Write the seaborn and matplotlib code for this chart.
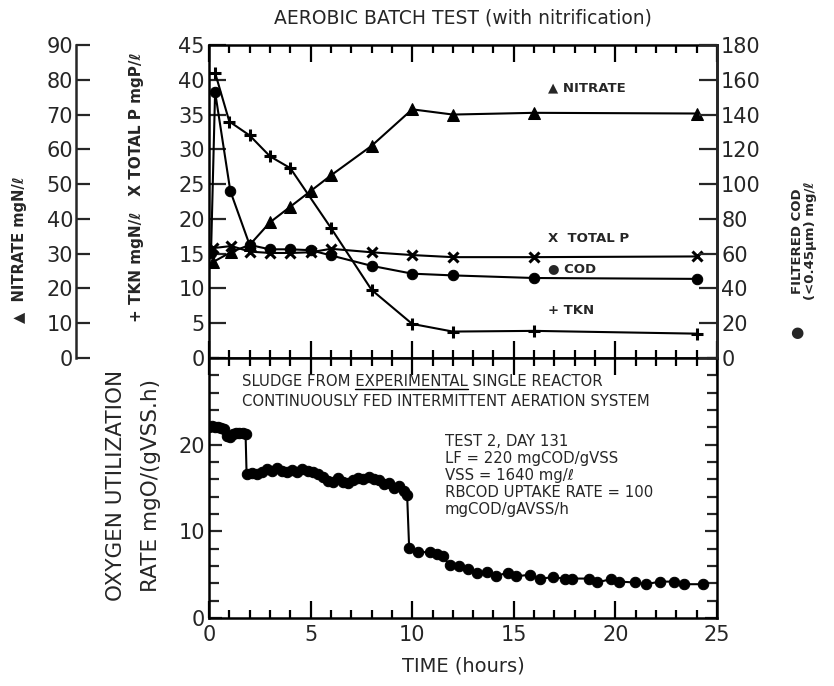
import matplotlib
matplotlib.use("Agg")
import matplotlib.pyplot as plt
from matplotlib.ticker import MultipleLocator, FixedLocator
from matplotlib.lines import Line2D
import seaborn as sns

# ---------------- data ----------------
time_tkn = [0.3, 1.0, 2.0, 3.0, 4.0, 6.0, 8.0, 10.0, 12.0, 16.0, 24.0]
tkn = [41.0, 34.0, 32.0, 29.0, 27.3, 18.7, 9.8, 4.9, 3.8, 3.9, 3.5]

time_tp = [0.2, 1.1, 2.0, 3.0, 4.0, 5.0, 6.0, 8.0, 10.0, 12.0, 16.0, 24.0]
total_p = [15.8, 16.1, 15.3, 15.1, 15.1, 15.2, 15.7, 15.2, 14.8, 14.5, 14.5, 14.6]

time_nit = [0.2, 1.1, 2.0, 3.0, 4.0, 5.0, 6.0, 8.0, 10.0, 12.0, 16.0, 24.0]
nitrate = [27.6, 30.5, 32.5, 39.0, 43.5, 48.0, 52.5, 61.0, 71.5, 70.0, 70.5, 70.3]

time_cod = [0.1, 0.3, 1.05, 2.0, 3.0, 4.0, 5.0, 6.0, 8.0, 10.0, 12.0, 16.0, 24.0]
cod = [60.5, 153.0, 96.0, 65.0, 62.5, 62.5, 62.0, 59.0, 53.0, 48.5, 47.5, 46.0, 45.5]

time_our = [0.0, 0.15, 0.3, 0.45, 0.6, 0.75, 0.9, 1.05, 1.2, 1.35, 1.5, 1.65, 1.8,
            1.85, 2.1, 2.35, 2.6, 2.85, 3.1, 3.35, 3.6, 3.85, 4.1, 4.35, 4.6, 4.85,
            5.1, 5.35, 5.6, 5.85, 6.1, 6.35, 6.6, 6.85, 7.1, 7.35, 7.6, 7.85, 8.1,
            8.35, 8.6, 8.85, 9.1, 9.35, 9.6, 9.75,
            9.85, 10.3, 10.9, 11.2, 11.5, 11.85, 12.3, 12.75, 13.2, 13.7, 14.1, 14.7,
            15.1, 15.8, 16.3, 16.95, 17.5, 17.85, 18.7, 19.1, 19.8, 20.2, 20.95,
            21.5, 22.2, 22.9, 23.4, 24.3]
our = [22.0, 22.1, 22.0, 22.0, 21.9, 21.8, 21.0, 20.9, 21.2, 21.4, 21.3, 21.4, 21.2,
       16.6, 16.7, 16.6, 16.8, 17.2, 17.0, 17.3, 17.0, 16.9, 17.1, 16.8, 17.2, 17.0,
       16.8, 16.6, 16.3, 15.8, 15.7, 16.2, 15.7, 15.6, 15.9, 16.1, 16.0, 16.3, 16.0,
       15.9, 15.5, 15.6, 15.0, 15.2, 14.6, 14.2,
       8.1, 7.6, 7.6, 7.4, 7.1, 6.1, 6.0, 5.7, 5.25, 5.3, 4.8, 5.25,
       4.8, 5.0, 4.5, 4.75, 4.5, 4.55, 4.55, 4.1, 4.5, 4.2, 4.1,
       3.9, 4.2, 4.2, 3.9, 3.9]

x_major = [0, 5, 10, 15, 20, 25]
left_ticks = [0, 5, 10, 15, 20, 25, 30, 35, 40, 45]
nit_ticks = [0, 10, 20, 30, 40, 50, 60, 70, 80, 90]
cod_ticks = [0, 20, 40, 60, 80, 100, 120, 140, 160, 180]
our_ticks = [0, 10, 20]

# ---------------- style ----------------
sns.set_style("ticks")
plt.rcParams["font.family"] = ["DejaVu Sans"]
plt.rcParams["axes.linewidth"] = 1.8

W, H = 834, 686
fig = plt.figure(figsize=(W / 100, H / 100), dpi=100)

x0, x1 = 209, 717
ax_top = fig.add_axes([x0 / W, 1 - 358 / H, (x1 - x0) / W, (358 - 45) / H])
ax_bot = fig.add_axes([x0 / W, 1 - 618 / H, (x1 - x0) / W, (618 - 358) / H])

ax_nit = ax_top.twinx()
ax_cod = ax_top.twinx()

line_kw = dict(color="black", linewidth=1.5, estimator=None,
               markeredgecolor="black")

# top panel series
sns.lineplot(x=time_tkn, y=tkn, ax=ax_top, marker="+", markersize=9,
             markeredgewidth=2.2, **line_kw)
sns.lineplot(x=time_tp, y=total_p, ax=ax_top, marker="x", markersize=7,
             markeredgewidth=2.2, **line_kw)
sns.lineplot(x=time_nit, y=nitrate, ax=ax_nit, marker="^", markersize=8.5,
             markerfacecolor="black", **line_kw)
sns.lineplot(x=time_cod, y=cod, ax=ax_cod, marker="o", markersize=7.5,
             markerfacecolor="black", **line_kw)

# bottom panel
sns.lineplot(x=time_our, y=our, ax=ax_bot, marker="o", markersize=7.5,
             markerfacecolor="black", **line_kw)

# ---------------- axes formatting ----------------
tick_font = 15
for ax in (ax_top, ax_bot):
    ax.set_xlim(0, 25)
    ax.xaxis.set_major_locator(FixedLocator(x_major))
    ax.xaxis.set_minor_locator(MultipleLocator(1))
    ax.tick_params(axis="x", which="both", direction="in", top=True, bottom=True,
                   width=1.6, color="black")
    ax.tick_params(axis="x", which="major", length=12)
    ax.tick_params(axis="x", which="minor", length=6)
    for s in ax.spines.values():
        s.set_linewidth(1.8)
        s.set_color("black")

ax_top.tick_params(axis="x", which="both", labelbottom=False, labeltop=False)
ax_bot.tick_params(axis="x", which="major", labelsize=tick_font, pad=5)

ax_top.set_ylim(0, 45)
ax_top.yaxis.set_major_locator(FixedLocator(left_ticks))
ax_top.tick_params(axis="y", direction="in", length=12, width=1.6,
                   labelsize=tick_font, pad=3, left=True, right=False)
ax_top.set_xlabel("")
ax_top.set_ylabel("")

# nitrate axis (outer left)
ax_nit.set_ylim(0, 90)
ax_nit.yaxis.set_major_locator(FixedLocator(nit_ticks))
ax_nit.yaxis.set_ticks_position("left")
ax_nit.yaxis.set_label_position("left")
ax_nit.spines["left"].set_position(("axes", (76 - x0) / (x1 - x0)))
ax_nit.spines["left"].set_visible(True)
ax_nit.spines["left"].set_linewidth(1.8)
for s in ("right", "top", "bottom"):
    ax_nit.spines[s].set_visible(False)
ax_nit.tick_params(axis="y", direction="in", length=10, width=1.6,
                   labelsize=tick_font, pad=2)
ax_nit.set_ylabel("")
ax_nit.set_xlabel("")

# COD axis (right)
ax_cod.set_ylim(0, 180)
ax_cod.yaxis.set_major_locator(FixedLocator(cod_ticks))
ax_cod.tick_params(axis="y", direction="in", length=13, width=1.6,
                   labelsize=tick_font, pad=3)
for s in ("left", "top", "bottom"):
    ax_cod.spines[s].set_visible(False)
ax_cod.spines["right"].set_linewidth(1.8)
ax_cod.set_ylabel("")
ax_cod.set_xlabel("")

# bottom panel y axis
ax_bot.set_ylim(0, 30)
ax_bot.yaxis.set_major_locator(FixedLocator(our_ticks))
ax_bot.yaxis.set_minor_locator(MultipleLocator(2))
ax_bot.tick_params(axis="y", which="both", direction="in", left=True, right=True,
                   width=1.6, labelsize=tick_font, pad=3)
ax_bot.tick_params(axis="y", which="major", length=9)
ax_bot.tick_params(axis="y", which="minor", length=7)
ax_bot.set_xlabel("TIME (hours)", fontsize=14, labelpad=8)
ax_bot.set_ylabel("OXYGEN UTILIZATION\nRATE mgO/(gVSS.h)", fontsize=15.5,
                  linespacing=1.95)
ax_bot.yaxis.set_label_coords((161 - x0) / (x1 - x0), 0.51)

# ---------------- texts ----------------
fig.text(463 / W, 1 - 18 / H, "AEROBIC BATCH TEST (with nitrification)",
         ha="center", va="center", fontsize=13.5)

fig.text(20 / W, 1 - 250 / H, "\u25B2  NITRATE mgN/\u2113", rotation=90,
         ha="center", va="center", fontsize=10.5, fontweight="bold")
fig.text(137 / W, 1 - 187 / H, "+ TKN mgN/\u2113   X TOTAL P mgP/\u2113", rotation=90,
         ha="center", va="center", fontsize=11, fontweight="bold")
fig.text(804 / W, 1 - 241 / H, "FILTERED COD\n(<0.45\u03bcm) mg/\u2113", rotation=90,
         ha="center", va="center", fontsize=9.5, fontweight="bold", linespacing=1.0)
fig.text(797 / W, 1 - 333 / H, "\u25CF", ha="center", va="center", fontsize=11)

leg_x = 16.7
leg_font = 9.5
ax_top.text(leg_x, 38.9, "\u25B2 NITRATE", fontsize=leg_font, fontweight="bold", va="center")
ax_top.text(leg_x, 17.2, "X  TOTAL P", fontsize=leg_font, fontweight="bold", va="center")
ax_top.text(leg_x, 12.9, "\u25CF COD", fontsize=leg_font, fontweight="bold", va="center")
ax_top.text(leg_x, 6.9, "+ TKN", fontsize=leg_font, fontweight="bold", va="center")

note_font = 10.7
fig.text(242 / W, 1 - 386 / H, "SLUDGE FROM EXPERIMENTAL SINGLE REACTOR",
         fontsize=note_font, va="baseline")
fig.text(242 / W, 1 - 406 / H, "CONTINUOUSLY FED INTERMITTENT AERATION SYSTEM",
         fontsize=note_font, va="baseline")
info_lines = ["TEST 2, DAY 131", "LF = 220 mgCOD/gVSS", "VSS = 1640 mg/\u2113",
              "RBCOD UPTAKE RATE = 100", "mgCOD/gAVSS/h"]
for i, s in enumerate(info_lines):
    fig.text(445 / W, 1 - (446 + 17 * i) / H, s, fontsize=note_font, va="baseline")

# underline "EXPERIMENTAL"
fig.canvas.draw()
r = fig.canvas.get_renderer()
tmp_full = fig.text(0, 0, "SLUDGE FROM EXPERIMENTAL", fontsize=note_font)
tmp_word = fig.text(0, 0, "EXPERIMENTAL", fontsize=note_font)
w_full = tmp_full.get_window_extent(r).width
w_word = tmp_word.get_window_extent(r).width
tmp_full.remove()
tmp_word.remove()
ux1 = 242 + w_full
ux0 = ux1 - w_word
uy = 1 - 389 / H
fig.add_artist(Line2D([ux0 / W, ux1 / W], [uy, uy], color="black", linewidth=1.0,
                      transform=fig.transFigure))

fig.savefig("out.png", dpi=100, facecolor="white")
